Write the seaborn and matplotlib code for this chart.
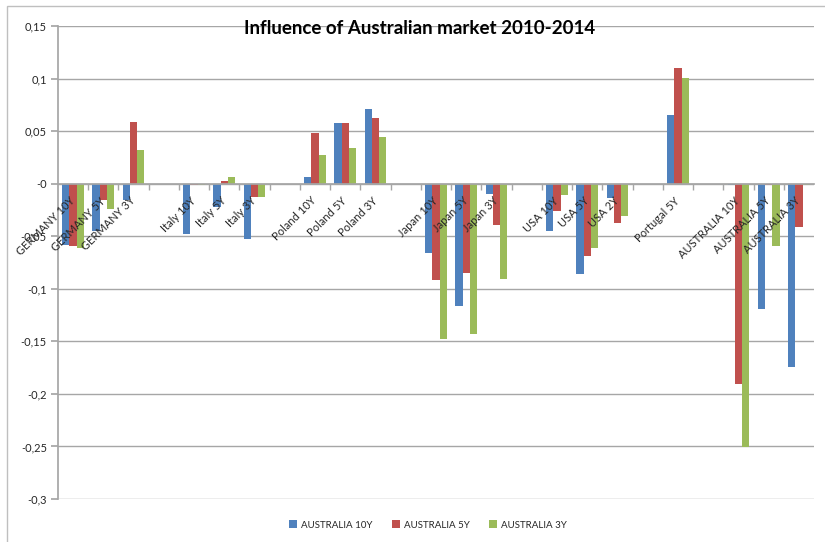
import matplotlib
matplotlib.use("Agg")
import matplotlib.pyplot as plt
import seaborn as sns
import pandas as pd
import numpy as np
from matplotlib.patches import Patch, Rectangle
from matplotlib.ticker import FuncFormatter, FixedLocator

# ---- data ----
categories = ["GERMANY 10Y", "GERMANY 5Y", "GERMANY 3Y", " ",
              "Italy 10Y", "Italy 5Y", "Italy 3Y", "  ",
              "Poland 10Y", "Poland 5Y", "Poland 3Y", "   ",
              "Japan 10Y", "Japan 5Y", "Japan 3Y", "    ",
              "USA 10Y", "USA 5Y", "USA 2Y", "     ",
              "Portugal 5Y", "      ",
              "AUSTRALIA 10Y", "AUSTRALIA 5Y", "AUSTRALIA 3Y"]
series = ["AUSTRALIA 10Y", "AUSTRALIA 5Y", "AUSTRALIA 3Y"]
aus10 = [-0.058, -0.045, -0.016, None, -0.048, -0.022, -0.053, None,
         0.006, 0.058, 0.071, None, -0.066, -0.116, -0.010, None,
         -0.045, -0.086, -0.014, None, 0.065, None, -0.001, -0.119, -0.174]
aus5 = [-0.059, -0.016, 0.059, None, -0.001, 0.003, -0.013, None,
        0.048, 0.058, 0.062, None, -0.092, -0.085, -0.039, None,
        -0.026, -0.069, -0.037, None, 0.110, None, -0.191, -0.001, -0.041]
aus3 = [-0.061, -0.024, 0.032, None, -0.001, 0.006, -0.013, None,
        0.027, 0.034, 0.044, None, -0.148, -0.143, -0.091, None,
        -0.011, -0.061, -0.031, None, 0.101, None, -0.251, -0.059, -0.001]
colors = ["#4F81BD", "#C0504D", "#9BBB59"]
title = "Influence of Australian market 2010-2014"

rows = []
for s, vals in zip(series, [aus10, aus5, aus3]):
    for c, v in zip(categories, vals):
        if v is not None:
            rows.append({"category": c, "series": s, "value": v})
df = pd.DataFrame(rows)

sns.set_theme(style="white")
plt.rcParams["font.family"] = ["Lato", "DejaVu Sans"]

W, H = 825, 542
fig = plt.figure(figsize=(W / 100, H / 100), dpi=100)
ax = fig.add_axes([58 / W, 1 - 499 / H, (814 - 58) / W, (499 - 26) / H])

sns.barplot(data=df, x="category", y="value", hue="series", order=categories,
            hue_order=series, palette=colors, width=0.72, gap=0,
            errorbar=None, linewidth=0, saturation=1, ax=ax, legend=False, zorder=2)

ax.set_ylim(-0.3, 0.15)
ax.set_xlim(-0.5, len(categories) - 0.5)
yticks = np.arange(-0.3, 0.1501, 0.05)
ax.set_yticks(yticks)
ax.yaxis.set_major_formatter(FuncFormatter(lambda v, p: f"{round(v, 2):g}".replace(".", ",")))
for yv in yticks:
    ax.axhline(yv, color="#A6A6A6", linewidth=1, zorder=0)
ax.grid(False)
ax.set_axisbelow(False)
ax.set_xlabel("")
ax.set_ylabel("")

for sp in ["top", "right"]:
    ax.spines[sp].set_visible(False)
ax.spines["left"].set_color("#A6A6A6")
ax.spines["bottom"].set_color("#A6A6A6")
ax.spines["bottom"].set_position(("data", 0))

ax.tick_params(axis="y", length=5, color="#A6A6A6", labelsize=8, pad=3, left=True)
ax.tick_params(axis="x", which="major", length=0, labelsize=8, pad=11)
ax.xaxis.set_minor_locator(FixedLocator(np.arange(0.5, len(categories) - 0.5, 1)))
ax.tick_params(axis="x", which="minor", length=4, color="#A6A6A6", bottom=True)
ax.set_xticks(range(len(categories)))
ax.set_xticklabels(categories, rotation=45, ha="right", va="center",
                   rotation_mode="anchor")

fig.text(420 / W, 1 - 28 / H, title, ha="center", va="center",
         fontsize=13.5, fontweight="bold", color="black")

handles = [Patch(facecolor=c, edgecolor="none", label=s) for c, s in zip(colors, series)]
fig.legend(handles=handles, loc="center", bbox_to_anchor=(428 / W, 1 - 525 / H),
           ncol=3, frameon=False, fontsize=7, handlelength=0.8, handleheight=0.8,
           handletextpad=0.4, columnspacing=2.0)

fig.add_artist(Rectangle((7 / W, -0.1), 1.2, 1.1 - 6 / H, transform=fig.transFigure,
                         fill=False, edgecolor="#BFBFBF", linewidth=1))

fig.savefig("out.png", dpi=100)
